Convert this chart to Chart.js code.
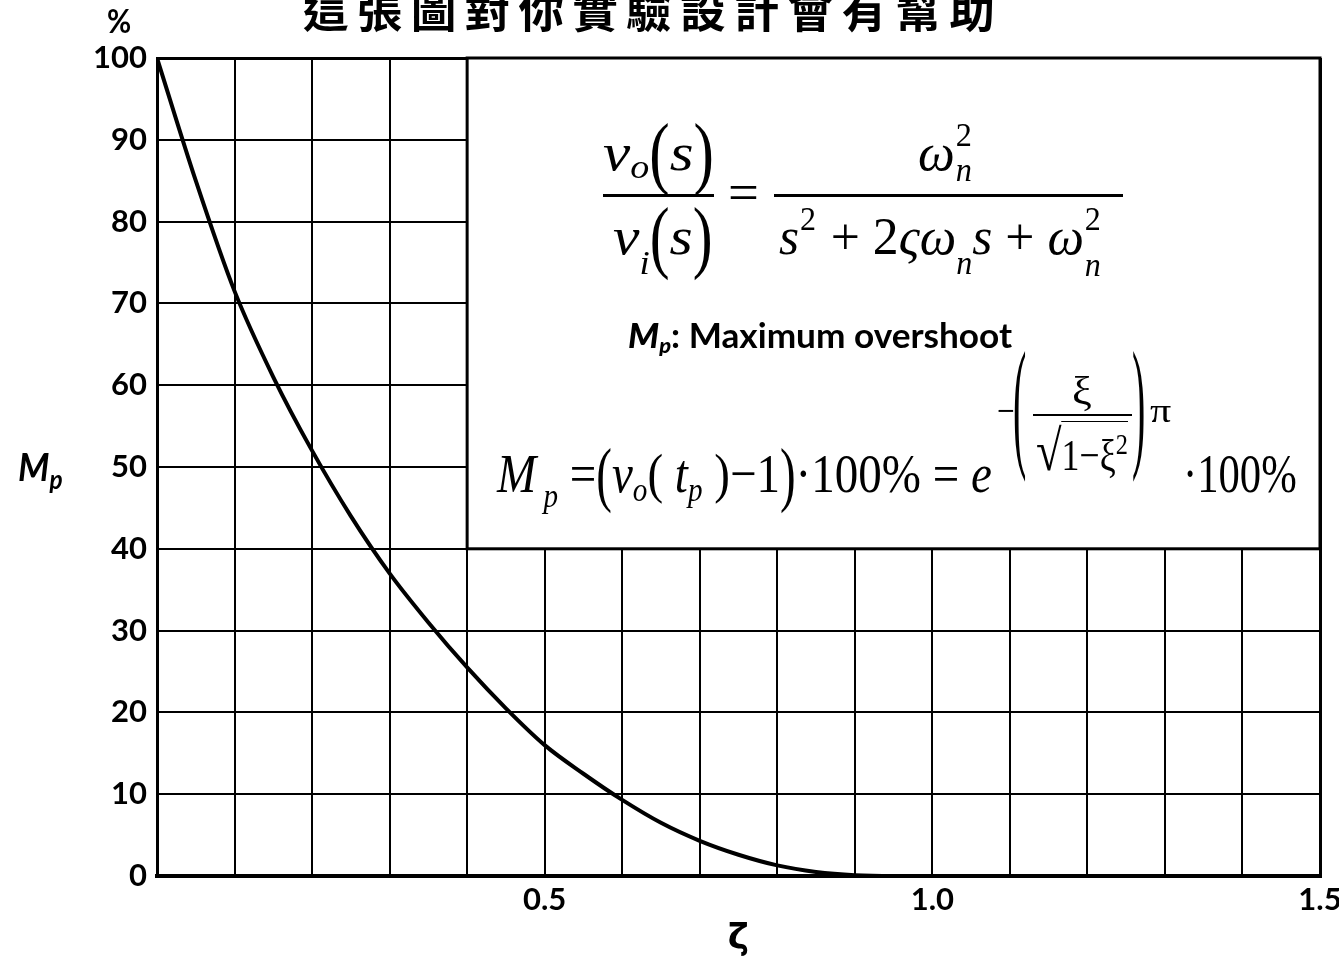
<!DOCTYPE html>
<html>
<head>
<meta charset="utf-8">
<script src="https://cdn.jsdelivr.net/npm/chart.js@4.4.0/dist/chart.umd.min.js"></script>
<style>
  html, body { margin: 0; padding: 0; background: #fff; overflow: hidden; }
  #wrap { position: relative; width: 1339px; height: 959px; }
  #chart { position: absolute; left: 0; top: 0; }
  .lbl { position: absolute; white-space: nowrap; line-height: 1; color: #000; transform-origin: 0 0; }
  .tex { font-family: "Liberation Serif", "Times New Roman", serif; font-style: italic; font-size: 53px; }
  .sans { font-family: Lato, "DejaVu Sans", sans-serif; font-weight: 700; }
  .up { font-style: normal; }
  .lbl sub { font-size: 0.62em; vertical-align: -0.25em; line-height: 0; }
  .lbl sub.low { vertical-align: -0.6em; }
  .lbl sup { font-size: 0.68em; vertical-align: 0.55em; line-height: 0; }
  .bl { display: inline-block; width: 0; height: 0; }
  .tp { display: inline-block; transform: scaleY(1.5); }
  .ss { display: inline-block; position: relative; width: 0.36em; height: 0; }
  .ss > span { position: absolute; left: 0.03em; font-size: 0.62em; line-height: 1; }
  .ss .hi { top: -1.56em; font-style: normal; }
  .ss .lo { top: -0.5em; }
  .ss .lo.low { top: -0.15em; }
  .big { display: inline-block; transform: scaleY(1.3); }
  .rad { font-size: 1.3em; line-height: 0; }
  .ovl { border-top: 1.5px solid #000; padding-top: 9px; }
  .rule { position: absolute; background: #000; }
</style>
</head>
<body>
<div id="wrap">
  <canvas id="chart" width="1339" height="959"></canvas>

  <div id="title" class="lbl" style="font-family:'Noto Sans CJK TC','Noto Sans CJK SC',sans-serif;font-weight:700;font-size:45px;letter-spacing:8px;">這張圖對你實驗設計會有幫助</div>
  <div id="pct" class="lbl sans" style="font-size:32px;">%</div>
  <div id="ylab" class="lbl sans" style="font-size:39px;font-style:italic;">M<sub style="font-size:0.68em;vertical-align:-0.3em;">p</sub></div>

  <!-- transfer function -->
  <div id="f1n" class="lbl tex">v<sub>o</sub><span class="tp up">(</span>s<span class="tp up">)</span></div>
  <div id="f1d" class="lbl tex">v<sub class="low">i</sub><span class="tp up">(</span>s<span class="tp up">)</span></div>
  <div id="f1eq" class="lbl tex up">=</div>
  <div id="f1rn" class="lbl tex">ω<span class="ss"><span class="hi">2</span><span class="lo">n</span></span></div>
  <div id="f1rd" class="lbl tex">s<span class="ss"><span class="hi">2</span></span> <span class="up">+</span> <span class="up">2</span>ςω<sub class="low">n</sub>s <span class="up">+</span> ω<span class="ss"><span class="hi">2</span><span class="lo low">n</span></span></div>
  <div id="bar1" class="rule"></div>
  <div id="bar2" class="rule"></div>

  <div id="mpdef" class="lbl sans" style="font-size:34px;"><i style="font-weight:900;">M<sub>p</sub></i>: Maximum overshoot</div>

  <!-- overshoot formula -->
  <div id="f2a" class="lbl tex" style="font-size:55px;">M<sub style="vertical-align:-0.45em;"> p</sub> <span class="up">=</span><span class="big up">(</span>v<sub>o</sub><span class="up">(</span> t<sub>p</sub> <span class="up">)−1</span><span class="big up">)</span><span class="up">·100%</span><span class="up"> = </span>e</div>
  <div id="eMinus" class="lbl tex up" style="font-size:40px;">−</div>
  <div id="eLp" class="lbl tex up" style="font-size:40px;">(</div>
  <div id="eNum" class="lbl tex up" style="font-size:40px;">ξ</div>
  <div id="eBar" class="rule"></div>
  <div id="eDen" class="lbl tex up" style="font-size:44px;"><span class="rad">√</span><span class="ovl">1−ξ<sup>2</sup></span></div>
  <div id="eRp" class="lbl tex up" style="font-size:40px;">)</div>
  <div id="ePi" class="lbl tex up" style="font-size:34px;">π</div>
  <div id="f2b" class="lbl tex up" style="font-size:55px;">·100%</div>
</div>

<script>
// peak overshoot of a 2nd-order step response vs damping ratio
const zeta      = [0, 0.05, 0.10, 0.15, 0.20, 0.25, 0.30, 0.35, 0.40, 0.45, 0.50, 0.55, 0.60, 0.65, 0.70, 0.75, 0.80, 0.85, 0.90, 0.95, 1.00];
const overshoot = [100, 85, 71.5, 61, 52, 44, 37, 31, 25.5, 20.5, 16, 12.5, 9.3, 6.5, 4.3, 2.6, 1.3, 0.5, 0.1, 0, 0];

// only these damping ratios get a number under the axis
const labeledZeta = [0.5, 1.0, 1.5];

// white panel holding the formulas, in data units
const panelZeta = [0.4, 1.5];
const panelMp = [40, 100];

const panelPlugin = {
    id: 'formulaPanel',
    beforeDatasetsDraw(chart) {
        const { ctx, scales: { x, y } } = chart;
        const l = x.getPixelForValue(panelZeta[0]);
        const r = x.getPixelForValue(panelZeta[1]);
        const t = y.getPixelForValue(panelMp[1]);
        const b = y.getPixelForValue(panelMp[0]);
        ctx.save();
        ctx.fillStyle = '#fff';
        ctx.fillRect(l, t, r - l, b - t);
        ctx.lineWidth = 3;
        ctx.strokeStyle = '#000';
        ctx.strokeRect(l, t, r - l, b - t);
        ctx.restore();
    }
};

const tickFont = { family: 'Lato, "DejaVu Sans", sans-serif', weight: 'bold', size: 31 };

new Chart(document.getElementById('chart'), {
    type: 'line',
    data: {
        datasets: [{
            data: zeta.map((z, i) => ({ x: z, y: overshoot[i] })),
            borderColor: '#000',
            borderWidth: 4,
            pointRadius: 0,
            cubicInterpolationMode: 'monotone',
            fill: false
        }]
    },
    options: {
        responsive: false,
        animation: false,
        devicePixelRatio: 1,
        layout: { padding: { top: 58, right: 19, left: 0, bottom: 0 } },
        plugins: {
            legend: { display: false },
            tooltip: { enabled: false }
        },
        scales: {
            x: {
                type: 'linear',
                min: 0,
                max: 1.5,
                ticks: {
                    stepSize: 0.1,
                    autoSkip: false,
                    maxRotation: 0,
                    padding: 5,
                    color: '#000',
                    font: tickFont,
                    callback: (v) => labeledZeta.some(l => Math.abs(l - v) < 1e-6) ? v.toFixed(1) : ''
                },
                grid: {
                    color: '#000',
                    drawTicks: false,
                    lineWidth: (c) => (c.index === 0 || c.index === 15) ? 3 : 2
                },
                border: { color: '#000', width: 4 },
                title: {
                    display: true,
                    text: 'ζ',
                    color: '#000',
                    font: { family: '"DejaVu Sans", sans-serif', weight: 'bold', size: 36 },
                    padding: { top: 0, bottom: -2 }
                },
                afterFit: (s) => {
                    s.height = 83;
                    s.paddingLeft = 0;
                    s.paddingRight = 0;
                }
            },
            y: {
                min: 0,
                max: 100,
                ticks: {
                    stepSize: 10,
                    padding: 10,
                    color: '#000',
                    font: tickFont
                },
                grid: {
                    color: '#000',
                    drawTicks: false,
                    lineWidth: (c) => (c.tick && c.tick.value === 100) ? 3 : 2
                },
                border: { color: '#000', width: 3 },
                afterFit: (s) => { s.width = 157; }
            }
        }
    },
    plugins: [panelPlugin]
});

// put a text block so its baseline sits at `baseline`, optionally squeezed to `width`
function place(id, left, baseline, width) {
    const el = document.getElementById(id);
    const mark = document.createElement('span');
    mark.className = 'bl';
    el.appendChild(mark);
    el.style.left = left + 'px';
    el.style.top = (baseline - mark.offsetTop) + 'px';
    if (width) el.style.transform = 'scaleX(' + (width / el.offsetWidth) + ')';
}

// tall bracket: stretch a parenthesis so its ink runs from inkTop to inkBottom
function stretch(id, left, inkTop, inkBottom) {
    const el = document.getElementById(id);
    const size = parseFloat(getComputedStyle(el).fontSize);
    const sy = (inkBottom - inkTop) / (0.87 * size);
    el.style.left = left + 'px';
    el.style.top = (inkTop - 0.14 * size * sy) + 'px';
    el.style.transform = 'scaleY(' + sy + ')';
}

function rule(id, left, top, width, height) {
    const el = document.getElementById(id);
    Object.assign(el.style, { left: left + 'px', top: top + 'px', width: width + 'px', height: height + 'px' });
}

place('title', 303, 28, 700);
place('pct', 107, 33, 24);
place('ylab', 18, 481, 45);

place('f1n', 603, 170, 111);
place('f1d', 613, 254, 100);
place('f1eq', 728, 210, 31);
place('f1rn', 918, 170, 56);
place('f1rd', 779, 254, 324);
rule('bar1', 603, 194, 111, 3);
rule('bar2', 774, 194, 349, 3);

place('mpdef', 628, 348, 384);

place('f2a', 497, 492, 495);
place('eMinus', 997, 424, 18);
stretch('eLp', 1013, 352, 478);
place('eNum', 1072, 404, 20);
rule('eBar', 1033, 414, 99, 2);
place('eDen', 1036, 470, 92);
stretch('eRp', 1132, 352, 478);
place('ePi', 1150, 422, 21);
place('f2b', 1183, 492, 114);
</script>
</body>
</html>
